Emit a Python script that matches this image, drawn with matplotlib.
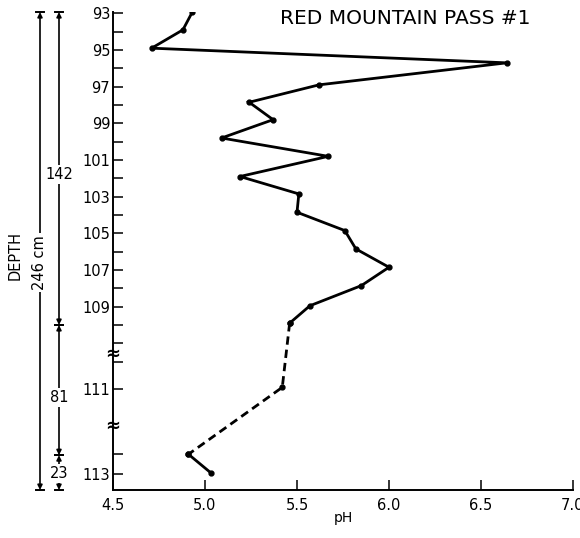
import matplotlib
matplotlib.use('Agg')
import matplotlib.pyplot as plt
from matplotlib.transforms import blended_transform_factory

# pH por muestra; la posicion vertical sigue el eje de profundidad con cortes
ph = [4.93, 4.88, 4.71, 6.64, 5.62, 5.24, 5.37, 5.09, 5.67, 5.19, 5.51,
      5.50, 5.76, 5.82, 6.00, 5.85, 5.57, 5.46, 5.42, 4.91, 5.03]
posicion = [92.95, 93.9, 94.9, 95.7, 96.9, 97.85, 98.8, 99.8, 100.8, 101.9,
            102.85, 103.85, 104.85, 105.85, 106.85, 107.85, 108.95, 109.9,
            113.4, 117.05, 118.05]
# indices donde el tramo es discontinuo (linea punteada)
tramo_continuo_1 = slice(0, 18)
tramo_punteado = slice(17, 20)
tramo_continuo_2 = slice(19, 21)

etiquetas_y = ['93', '95', '97', '99', '101', '103', '105', '107', '109', '111', '113']
pos_etiquetas_y = [93, 95, 97, 99, 101, 103, 105, 107, 109, 113.5, 118.1]
pos_menores_y = [94, 96, 98, 100, 102, 104, 106, 108, 110, 111, 112, 117.05]
cortes = [111.56, 115.5]

# tramos de profundidad (cm): inicio, fin, texto
tramos = [(92.93, 110.0, '142'), (110.0, 117.1, '81'), (117.1, 119.0, '23')]

fig = plt.figure(figsize=(5.8, 5.38), dpi=100)
ax = fig.add_axes([113 / 580, 48 / 538, 460 / 580, 478.5 / 538])

ax.plot(ph[tramo_continuo_1], posicion[tramo_continuo_1], color='black', lw=2.0,
        marker='o', ms=3.5, solid_joinstyle='miter')
ax.plot(ph[tramo_punteado], posicion[tramo_punteado], color='black', lw=2.0,
        dashes=(3, 1.8), marker='o', ms=3.5)
ax.plot(ph[tramo_continuo_2], posicion[tramo_continuo_2], color='black', lw=2.0,
        marker='o', ms=3.5)

ax.set_xlim(4.5, 7.0)
ax.set_ylim(119.0, 92.9)
ax.set_xticks([4.5, 5.0, 5.5, 6.0, 6.5, 7.0])
ax.set_xticklabels(['4.5', '5.0', '5.5', '6.0', '6.5', '7.0'])
ax.set_yticks(pos_etiquetas_y)
ax.set_yticklabels(etiquetas_y)
ax.set_yticks(pos_menores_y, minor=True)
ax.tick_params(axis='both', which='both', direction='in', length=7, width=1.1,
               labelsize=10.5)
ax.tick_params(axis='y', which='both', pad=2)
ax.tick_params(axis='x', which='both', pad=6)
for lado in ['top', 'right']:
    ax.spines[lado].set_visible(False)
for lado in ['left', 'bottom']:
    ax.spines[lado].set_linewidth(1.4)
ax.set_xlabel('pH', fontsize=10, labelpad=-2)

trans = blended_transform_factory(ax.transAxes, ax.transData)

# marcas de corte sobre el eje vertical
for c in cortes:
    ax.text(0, c, '≈', transform=trans, ha='center', va='center', fontsize=13,
            fontweight='bold', clip_on=False)

flecha = dict(arrowstyle='-|>', lw=1.2, color='black', mutation_scale=7,
              shrinkA=0, shrinkB=0)


def cota(x, y0, y1, texto, ymed, rot=0):
    ax.annotate('', xy=(x, y0), xytext=(x, ymed), xycoords=trans,
                textcoords=trans, arrowprops=flecha, annotation_clip=False)
    ax.annotate('', xy=(x, y1), xytext=(x, ymed), xycoords=trans,
                textcoords=trans, arrowprops=flecha, annotation_clip=False)
    for y in (y0, y1):
        ax.plot([x - 0.008, x + 0.008], [y, y], transform=trans, color='black',
                lw=1.4, clip_on=False)
    ax.text(x, ymed, texto, transform=trans, ha='center', va='center',
            fontsize=10.5, rotation=rot, clip_on=False,
            bbox=dict(facecolor='white', edgecolor='none', pad=1.5))


x_total = (40 - 113) / 460
x_parcial = (59 - 113) / 460
cota(x_total, 92.93, 119.0, '246 cm', 106.6, rot=90)
medios = [101.8, 113.96, 118.1]
for (y0, y1, texto), ym in zip(tramos, medios):
    cota(x_parcial, y0, y1, texto, ym)

ax.text((15 - 113) / 460, 106.2, 'DEPTH', transform=trans, ha='center',
        va='center', rotation=90, fontsize=10.5, clip_on=False)

fig.text(280 / 580, 1 - 18 / 538, 'RED MOUNTAIN PASS #1', ha='left',
         va='center', fontsize=14.5)

fig.savefig('out.png', dpi=100, facecolor='white')
